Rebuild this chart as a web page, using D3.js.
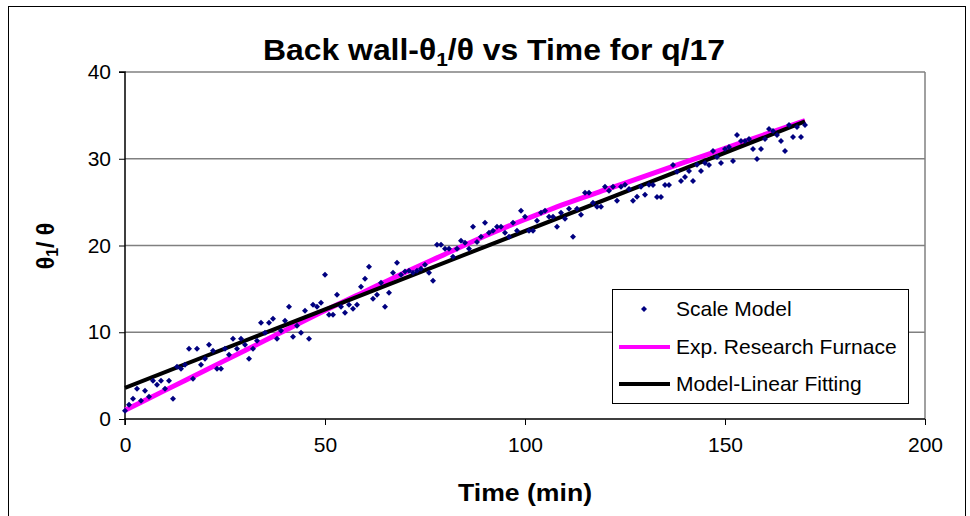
<!DOCTYPE html>
<html>
<head>
<meta charset="utf-8">
<script src="https://cdn.jsdelivr.net/npm/d3@7"></script>
<style>
  html, body { margin: 0; padding: 0; background: #fff; }
  svg { display: block; font-family: "Liberation Sans", Arial, sans-serif; }
</style>
</head>
<body>
<svg id="chart" width="970" height="516"></svg>
<script>
// ---- Data ----
const scaleModelTime = d3.range(0, 171);
const scaleModelValues = [
  0.96, 1.65, 2.34, 3.50, 2.11, 3.27, 2.57, 4.42, 3.96, 4.42,
  3.50, 4.42, 2.34, 6.03, 5.80, 6.26, 8.11, 4.65, 8.11, 6.26,
  6.95, 8.57, 7.88, 5.80, 5.80, 8.11, 7.42, 9.26, 8.11, 9.26,
  8.57, 6.95, 8.11, 9.03, 11.10, 9.95, 11.10, 11.57, 9.26, 10.18,
  11.34, 12.95, 9.49, 10.75, 9.95, 12.49, 9.26, 13.18, 12.95, 13.41,
  16.64, 12.03, 12.03, 14.33, 12.95, 12.26, 13.18, 12.72, 13.18, 15.25,
  16.18, 17.56, 13.87, 14.33, 15.72, 12.95, 14.56, 16.87, 18.02, 16.64,
  17.00, 17.10, 16.87, 17.10, 17.33, 17.79, 16.87, 15.95, 20.10, 20.10,
  19.63, 19.63, 18.71, 19.63, 20.56, 20.33, 19.63, 22.15, 20.40, 21.00,
  22.63, 21.48, 21.71, 22.17, 22.17, 21.48, 21.02, 22.63, 21.71, 24.02,
  23.32, 21.71, 21.71, 22.86, 23.78, 24.02, 23.32, 23.32, 22.17, 23.78,
  23.09, 24.25, 21.02, 24.25, 23.55, 26.09, 26.09, 24.94, 24.48, 24.48,
  26.78, 26.32, 26.78, 25.17, 26.78, 27.01, 26.50, 25.17, 25.63, 26.78,
  25.84, 26.99, 26.97, 25.59, 25.59, 26.97, 26.97, 29.28, 28.50, 27.44,
  27.90, 28.59, 27.44, 29.30, 28.59, 29.51, 29.28, 30.89, 30.20, 29.51,
  31.12, 31.35, 29.74, 32.74, 32.05, 32.05, 32.28, 31.12, 29.97, 31.12,
  32.28, 33.43, 33.20, 32.74, 32.05, 30.89, 33.89, 32.51, 33.66, 32.51,
  33.89
];
const furnaceTime = [0, 10, 20, 30, 40, 50, 60, 70, 80, 90, 100, 110, 120, 130, 140, 150, 160, 170];
const furnaceValues = [1.0, 3.3, 5.6, 7.9, 10.2, 12.5, 14.7, 16.9, 19.0, 21.1, 23.0, 24.8, 26.4, 28.0, 29.6, 31.2, 32.8, 34.4];
const fitTime = [0, 170];
const fitValues = [3.6, 34.3];
const xTicks = [0, 50, 100, 150, 200];
const yTicks = [0, 10, 20, 30, 40];
const seriesNames = ["Scale Model", "Exp. Research Furnace", "Model-Linear Fitting"];

// ---- Chart ----
const svg = d3.select("#chart");
const x = d3.scaleLinear().domain([0, 200]).range([125, 925]);
const y = d3.scaleLinear().domain([0, 40]).range([419, 72]);

// outer frame
svg.append("rect").attr("x", 8.5).attr("y", 6.5).attr("width", 957).attr("height", 530)
  .attr("fill", "#fff").attr("stroke", "#000").attr("stroke-width", 1);

// gridlines
svg.append("g").selectAll("line").data(yTicks.filter(d => d > 0)).join("line")
  .attr("x1", x(0)).attr("x2", x(200))
  .attr("y1", d => y(d)).attr("y2", d => y(d))
  .attr("stroke", "#808080").attr("stroke-width", 1.5);
// right border of plot area
svg.append("line").attr("x1", x(200)).attr("x2", x(200)).attr("y1", y(40)).attr("y2", y(0))
  .attr("stroke", "#808080").attr("stroke-width", 1.5);

// axes
const yAxis = svg.append("g").attr("transform", `translate(${x(0)},0)`)
  .call(d3.axisLeft(y).tickValues(yTicks).tickSize(6).tickPadding(8));
const xAxis = svg.append("g").attr("transform", `translate(0,${y(0)})`)
  .call(d3.axisBottom(x).tickValues(xTicks).tickSize(6).tickPadding(12));
[yAxis, xAxis].forEach(g => {
  g.select(".domain").attr("stroke", "#000").attr("stroke-width", 1.5);
  g.selectAll(".tick line").attr("stroke", "#000").attr("stroke-width", 1);
  g.selectAll(".tick text").attr("font-size", 21).attr("fill", "#000")
    .attr("font-family", "Liberation Sans, Arial, sans-serif");
});
yAxis.select(".domain").attr("d", `M-6,${y(40)}H0V${y(0)}`);
xAxis.select(".domain").attr("d", `M${x(0)},6V0H${x(200)}`);

// furnace line (magenta)
const line = d3.line().x(d => x(d[0])).y(d => y(d[1]));
svg.append("path")
  .datum(furnaceTime.map((t, i) => [t, furnaceValues[i]]))
  .attr("d", line.curve(d3.curveMonotoneX))
  .attr("fill", "none").attr("stroke", "#ff00ff").attr("stroke-width", 5);

// linear fit (black)
svg.append("path")
  .datum(fitTime.map((t, i) => [t, fitValues[i]]))
  .attr("d", d3.line().x(d => x(d[0])).y(d => y(d[1])))
  .attr("fill", "none").attr("stroke", "#000").attr("stroke-width", 4);

// scatter (diamonds)
const diamond = r => `M0,${-r}L${r},0L0,${r}L${-r},0Z`;
svg.append("g").selectAll("path").data(scaleModelTime.map((t, i) => [t, scaleModelValues[i]]))
  .join("path")
  .attr("transform", d => `translate(${x(d[0])},${y(d[1])})`)
  .attr("d", diamond(3))
  .attr("fill", "#000080");

// title
const title = svg.append("text").attr("x", 494).attr("y", 60)
  .attr("text-anchor", "middle").attr("font-size", 29).attr("font-weight", "bold").attr("fill", "#000")
  .attr("textLength", 462).attr("lengthAdjust", "spacingAndGlyphs");
title.append("tspan").text("Back wall-θ");
title.append("tspan").attr("font-size", 19).attr("dy", 6).text("1");
title.append("tspan").attr("dy", -6).text("/θ vs Time for q/17");

// axis titles
svg.append("text").attr("x", 525).attr("y", 501).attr("text-anchor", "middle")
  .attr("font-size", 24).attr("font-weight", "bold")
  .attr("textLength", 134).attr("lengthAdjust", "spacingAndGlyphs").text("Time (min)");
const yt = svg.append("text").attr("transform", "translate(54,246) rotate(-90)")
  .attr("text-anchor", "middle").attr("font-size", 23).attr("font-weight", "bold");
yt.append("tspan").text("θ");
yt.append("tspan").attr("font-size", 16).attr("dy", 4).text("1");
yt.append("tspan").attr("dy", -4).text("/ θ");

// legend
const lg = svg.append("g");
lg.append("rect").attr("x", 612.5).attr("y", 289.5).attr("width", 296).attr("height", 114)
  .attr("fill", "#fff").attr("stroke", "#000").attr("stroke-width", 1);
const rows = [308, 346, 383];
lg.append("path").attr("transform", `translate(644,${rows[0] + 1})`).attr("d", diamond(3)).attr("fill", "#000080");
lg.append("line").attr("x1", 619).attr("x2", 670).attr("y1", rows[1] + 1).attr("y2", rows[1] + 1)
  .attr("stroke", "#ff00ff").attr("stroke-width", 4);
lg.append("line").attr("x1", 619).attr("x2", 670).attr("y1", rows[2] + 1).attr("y2", rows[2] + 1)
  .attr("stroke", "#000").attr("stroke-width", 4);
lg.selectAll("text.lab").data(seriesNames).join("text").attr("class", "lab")
  .attr("x", 676).attr("y", (d, i) => rows[i]).attr("dy", "0.36em")
  .attr("font-size", 21).attr("fill", "#000").text(d => d);
</script>
</body>
</html>
